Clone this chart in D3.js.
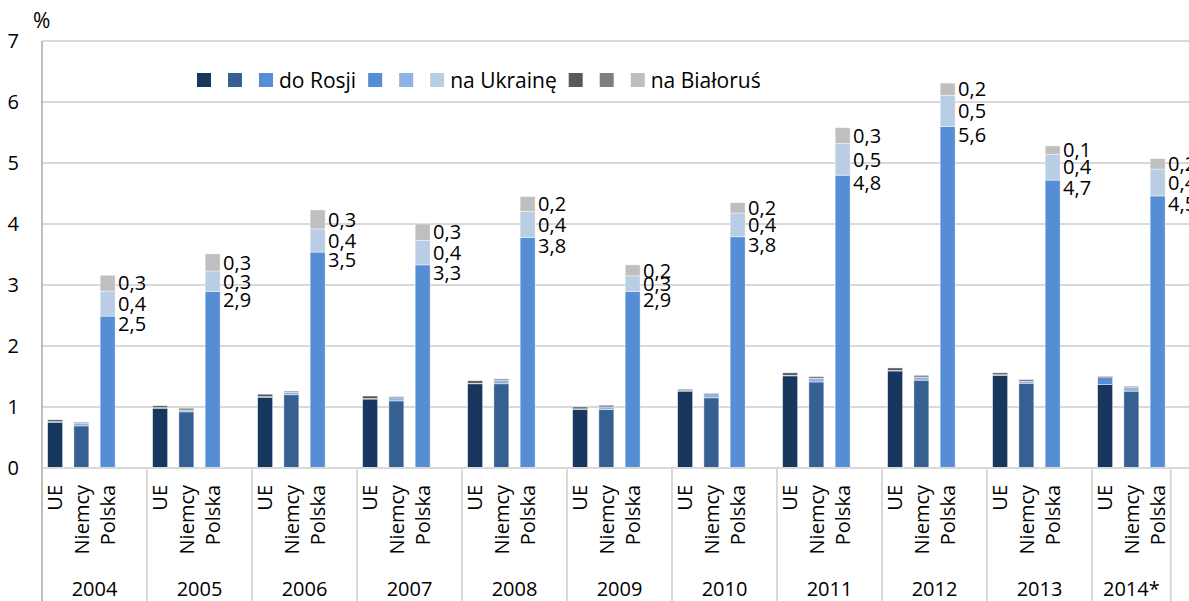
<!DOCTYPE html>
<html>
<head>
<meta charset="utf-8">
<script src="https://cdn.jsdelivr.net/npm/d3@7"></script>
<style>
  html, body { margin: 0; padding: 0; background: #fff; }
  svg { display: block; font-family: "Open Sans", Lato, sans-serif; }
</style>
</head>
<body>
<svg id="chart" width="1189" height="601"></svg>
<script>
// years and countries on the category axis
var years = ["2004", "2005", "2006", "2007", "2008", "2009", "2010", "2011", "2012", "2013", "2014*"];
var countries = ["UE", "Niemcy", "Polska"];
var yTicks = [0, 1, 2, 3, 4, 5, 6, 7];

// export shares, %
var ueRosja       = [0.75, 0.98, 1.16, 1.13, 1.38, 0.96, 1.26, 1.51, 1.59, 1.52, 1.37];
var ueUkraina     = [0.01, 0.01, 0.01, 0.01, 0.01, 0.01, 0.01, 0.01, 0.01, 0.01, 0.11];
var ueBialorus    = [0.03, 0.03, 0.04, 0.04, 0.04, 0.03, 0.02, 0.04, 0.04, 0.03, 0.02];
var niemcyRosja   = [0.69, 0.92, 1.20, 1.10, 1.38, 0.96, 1.15, 1.41, 1.44, 1.39, 1.26];
var niemcyUkraina = [0.04, 0.03, 0.04, 0.05, 0.06, 0.04, 0.07, 0.06, 0.05, 0.03, 0.06];
var niemcyBialorus= [0.02, 0.03, 0.02, 0.02, 0.02, 0.03, 0.01, 0.03, 0.03, 0.03, 0.02];
var polskaRosja   = [2.49, 2.89, 3.54, 3.33, 3.78, 2.89, 3.79, 4.80, 5.60, 4.72, 4.46];
var polskaUkraina = [0.41, 0.34, 0.38, 0.40, 0.43, 0.26, 0.39, 0.52, 0.51, 0.42, 0.44];
var polskaBialorus= [0.26, 0.28, 0.31, 0.27, 0.24, 0.18, 0.17, 0.26, 0.20, 0.14, 0.17];

var series = [
  { c: "UE",     r: ueRosja,     u: ueUkraina,     b: ueBialorus,     cols: ["#17375e", "#558ed5", "#595959"] },
  { c: "Niemcy", r: niemcyRosja, u: niemcyUkraina, b: niemcyBialorus, cols: ["#366092", "#8eb4e3", "#7f7f7f"] },
  { c: "Polska", r: polskaRosja, u: polskaUkraina, b: polskaBialorus, cols: ["#558ed5", "#b9cde5", "#bfbfbf"] }
];

function drawChart() {
  var svg = d3.select("#chart");
  var left = 42, plotTop = 41, bottom = 468;

  // 4 slots per year (3 bars + empty), last year has 3 + one blank group
  var slots = [];
  years.forEach(function(yr, i) {
    countries.forEach(function(c) { slots.push(yr + "|" + c); });
    if (i < years.length - 1) slots.push(yr + "|");
  });
  slots.push("end|");

  var step = 26.25;
  var x = d3.scaleBand().domain(slots)
    .range([left, left + slots.length * step])
    .paddingInner(0.43).paddingOuter(0.215);
  var y = d3.scaleLinear().domain([0, 7]).range([bottom, plotTop]);

  // gridlines
  svg.append("g").selectAll("line").data(yTicks.slice(1)).join("line")
    .attr("x1", left).attr("x2", 1189)
    .attr("y1", function(d) { return y(d); }).attr("y2", function(d) { return y(d); })
    .attr("stroke", "#d9d9d9").attr("stroke-width", 2);

  // y axis labels
  svg.append("g").selectAll("text").data(yTicks).join("text")
    .attr("x", 19).attr("y", function(d) { return y(d); })
    .attr("dy", "0.36em").attr("text-anchor", "end")
    .attr("font-size", 20).attr("fill", "#000")
    .text(function(d) { return d; });

  svg.append("text").attr("x", 33).attr("y", 28)
    .attr("font-size", 21).text("%");

  // bars
  var fmt = function(v) { return d3.format(".1f")(v).replace(".", ","); };
  var bars = svg.append("g");
  series.forEach(function(s) {
    years.forEach(function(yr, i) {
      var bx = x(yr + "|" + s.c);
      var vals = [s.r[i], s.u[i], s.b[i]];
      var base = 0;
      vals.forEach(function(v, k) {
        bars.append("rect")
          .attr("x", bx).attr("width", x.bandwidth())
          .attr("y", y(base + v)).attr("height", y(base) - y(base + v))
          .attr("fill", s.cols[k])
          .attr("stroke", "#fff").attr("stroke-width", 0.6).attr("stroke-opacity", 0.7);
        if (s.c === "Polska") {
          // russia label just under the top of its segment, others centred
          var ly = k === 0 ? y(base + v) + 8 : (y(base) + y(base + v)) / 2;
          bars.append("text")
            .attr("x", bx + x.bandwidth() + 3).attr("y", ly)
            .attr("dy", "0.36em").attr("font-size", 20).attr("fill", "#000")
            .text(fmt(v));
        }
        base += v;
      });
    });
  });

  // axes lines
  svg.append("line").attr("x1", left).attr("x2", 1189)
    .attr("y1", bottom).attr("y2", bottom)
    .attr("stroke", "#d9d9d9").attr("stroke-width", 2);
  svg.append("line").attr("x1", left).attr("x2", left)
    .attr("y1", plotTop).attr("y2", 601)
    .attr("stroke", "#bfbfbf").attr("stroke-width", 2);

  // group separators: end of each year's last slot
  var seps = years.map(function(yr, i) {
    var last = i < years.length - 1 ? yr + "|" : yr + "|Polska";
    return x(last) - x.step() * 0.215 + x.step();
  });
  svg.append("g").selectAll("line").data(seps).join("line")
    .attr("x1", function(d) { return d; }).attr("x2", function(d) { return d; })
    .attr("y1", bottom).attr("y2", 601)
    .attr("stroke", "#d9d9d9").attr("stroke-width", 2);

  // country labels (rotated)
  var cl = svg.append("g");
  years.forEach(function(yr) {
    countries.forEach(function(c) {
      var cx = x(yr + "|" + c) + x.bandwidth() / 2;
      cl.append("text")
        .attr("transform", "translate(" + cx + ",485) rotate(-90)")
        .attr("text-anchor", "end").attr("dy", "0.36em")
        .attr("font-size", 20).attr("fill", "#000")
        .text(c);
    });
  });

  // year labels centred on each group
  svg.append("g").selectAll("text").data(years).join("text")
    .attr("x", function(yr, i) {
      var start = i === 0 ? left : seps[i - 1];
      return (start + seps[i]) / 2;
    })
    .attr("y", 596).attr("text-anchor", "middle")
    .attr("font-size", 20).attr("fill", "#000")
    .text(function(d) { return d; });

  // legend
  var names = ["do Rosji", "na Ukrainę", "na Białoruś"];
  var legendItems = [];
  [0, 1, 2].forEach(function(k) {
    series.forEach(function(s, j) {
      legendItems.push({ color: s.cols[k], label: j === 2 ? names[k] : "" });
    });
  });
  var lg = svg.append("g");
  var lx = 197;
  legendItems.forEach(function(it) {
    lg.append("rect").attr("x", lx).attr("y", 73).attr("width", 14).attr("height", 14)
      .attr("fill", it.color);
    lx += 14;
    if (it.label) {
      var t = lg.append("text").attr("x", lx + 6).attr("y", 80).attr("dy", "0.36em")
        .attr("font-size", 21).attr("fill", "#000").text(it.label);
      lx += 6 + t.node().getComputedTextLength() + 12;
    } else {
      lx += 17;
    }
  });
}

drawChart();
</script>
</body>
</html>
